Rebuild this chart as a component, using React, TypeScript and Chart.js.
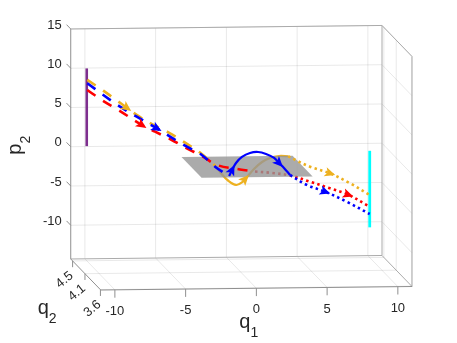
import React, { useEffect, useRef } from "react";
import { Chart, registerables } from "chart.js";

Chart.register(...registerables);

// ---- axis ranges & ticks ----
const Q1_RANGE = [-11, 11];
const Q2_RANGE = [3.59, 4.56];
const P2_RANGE = [-14.3, 15];
const Q1_TICKS = [-10, -5, 0, 5, 10];
const Q2_TICKS = [4.5, 4.1, 3.6];
const Q2_TICK_LABELS = ["4.5", "4.1", "3.6"];
const P2_TICKS = [15, 10, 5, 0, -5, -10];

// all trajectories lie in the plane q2 = CURVE_Q2
const CURVE_Q2 = 4.5;

// ---- trajectories (q1, p2) ----
const yellowDashQ1 = [-9.96, -8.83, -7.6, -6.47, -5.29, -4.11, -3.05, -1.87, -0.86];
const yellowDashP2 = [8.73, 7.34, 5.71, 4.2, 2.9, 1.82, 0.6, -0.86, -2.48];
const yellowSolidQ1 = [-0.86, -0.44, -0.015, 0.55, 0.97, 1.33, 1.82, 2.39, 2.95, 3.59, 4.23];
const yellowSolidP2 = [-2.48, -3.5, -4.28, -4.86, -4.55, -3.86, -2.85, -1.97, -1.47, -1.23, -1.28];
const yellowDotQ1 = [4.23, 4.84, 5.78, 7.19, 8.61, 10.0];
const yellowDotP2 = [-1.28, -1.85, -2.64, -3.51, -4.81, -6.33];

const blueDashQ1 = [-9.96, -8.83, -7.65, -6.47, -5.05, -4.11, -3.05, -1.87, -0.93, 0.06];
const blueDashP2 = [8.31, 6.79, 5.28, 3.98, 2.47, 1.39, 0.22, -0.99, -2.5, -3.71];
const blueSolidQ1 = [0.06, 0.27, 0.55, 0.97, 1.54, 2.11, 2.67, 3.24, 3.59, 3.94, 4.37];
const blueSolidP2 = [-3.71, -2.95, -2.06, -1.3, -0.8, -0.69, -0.95, -1.47, -2.12, -2.76, -3.66];
const blueDotQ1 = [4.37, 5.55, 6.84, 8.37, 10.0];
const blueDotP2 = [-3.66, -4.96, -5.84, -7.15, -8.75];

const redDashQ1 = [-9.96, -8.94, -7.77, -6.11, -5.17, -3.99, -2.93, -1.87, -0.79, 0.83, 1.89];
const redDashP2 = [7.45, 6.16, 4.86, 2.92, 2.04, 0.96, -0.12, -1.12, -2.29, -2.89, -3.17];
const redDotQ1 = [1.89, 3.09, 4.37, 5.78, 7.19, 8.47, 10.0];
const redDotP2 = [-3.17, -3.38, -3.73, -4.55, -5.42, -6.25, -7.82];

// initial and final segments
const purpleQ1 = [-10, -10];
const purpleP2 = [0.3, 10.2];
const cyanQ1 = [10, 10];
const cyanP2 = [-0.7, -10.45];

// section plane p2 = const
const planeQ1 = [-3.85, 4.0];
const planeQ2 = [3.6, 4.25];
const planeP2 = -0.2;

// arrow locations (q1 along each trajectory)
const yellowDashArrows = [-7.17];
const yellowSolidArrows = [1.19];
const yellowDotArrows = [7.19];
const blueDashArrows = [-5.05];
const blueSolidArrows = [0.27, 3.59];
const blueDotArrows = [6.84];
const redDashArrows = [-6.11];
const redDotArrows = [8.47];

// ---- view (oblique projection) ----
const VIEW_X = [-16.0, 16.3];
const VIEW_Y = [-25.0, 18.69];
const DEPTH_SHIFT_X = 2.12;
const DEPTH_SHIFT_Y = -3.95;
const TILT = 0.0203;

function proj(q1: number, q2: number, p2: number) {
  const t = (Q2_RANGE[1] - q2) / (Q2_RANGE[1] - Q2_RANGE[0]);
  return {
    x: q1 + t * DEPTH_SHIFT_X,
    y: p2 + t * DEPTH_SHIFT_Y + TILT * (q1 - Q1_RANGE[0]),
  };
}

const YELLOW = "#EDB120";
const BLUE = "#0000FF";
const RED = "#FF0000";
const DASH = [10, 9];
const DOT = [2.5, 3.3];

type Series = {
  q1: number[];
  p2: number[];
  color: string;
  dash: number[];
  width: number;
  order: number;
  arrows: number[];
};

const SERIES: Series[] = [
  { q1: blueSolidQ1, p2: blueSolidP2, color: BLUE, dash: [], width: 2.2, order: 0, arrows: blueSolidArrows },
  { q1: blueDotQ1, p2: blueDotP2, color: BLUE, dash: DOT, width: 2.6, order: 1, arrows: blueDotArrows },
  { q1: blueDashQ1, p2: blueDashP2, color: BLUE, dash: DASH, width: 2.6, order: 2, arrows: blueDashArrows },
  { q1: yellowDashQ1, p2: yellowDashP2, color: YELLOW, dash: DASH, width: 2.6, order: 3, arrows: yellowDashArrows },
  { q1: redDashQ1, p2: redDashP2, color: RED, dash: DASH, width: 2.6, order: 4, arrows: redDashArrows },
  { q1: yellowDotQ1, p2: yellowDotP2, color: YELLOW, dash: DOT, width: 2.6, order: 5, arrows: yellowDotArrows },
  { q1: purpleQ1, p2: purpleP2, color: "#7E2F8E", dash: [], width: 2.6, order: 6, arrows: [] },
  { q1: cyanQ1, p2: cyanP2, color: "#00FFFF", dash: [], width: 2.8, order: 7, arrows: [] },
  { q1: yellowSolidQ1, p2: yellowSolidP2, color: YELLOW, dash: [], width: 2.2, order: 9, arrows: yellowSolidArrows },
  { q1: redDotQ1, p2: redDotP2, color: RED, dash: DOT, width: 2.6, order: 10, arrows: redDotArrows },
];

const FONT = "'Liberation Sans', Arial, Helvetica, sans-serif";
const TEXT = "#262626";

const axes3d = {
  id: "axes3d",
  beforeDatasetsDraw(chart: any) {
    const ctx = chart.ctx as CanvasRenderingContext2D;
    const xs = chart.scales.x;
    const ys = chart.scales.y;
    const P = (q1: number, q2: number, p2: number) => {
      const v = proj(q1, q2, p2);
      return [xs.getPixelForValue(v.x), ys.getPixelForValue(v.y)];
    };
    const line = (a: number[], b: number[], color: string) => {
      ctx.beginPath();
      ctx.moveTo(a[0], a[1]);
      ctx.lineTo(b[0], b[1]);
      ctx.strokeStyle = color;
      ctx.lineWidth = 1;
      ctx.stroke();
    };
    const [q1a, q1b] = Q1_RANGE;
    const [q2a, q2b] = Q2_RANGE;
    const [pa, pb] = P2_RANGE;
    ctx.save();
    const grid = "rgba(0,0,0,0.09)";
    Q1_TICKS.forEach((q) => line(P(q, q2b, pa), P(q, q2b, pb), grid));
    P2_TICKS.forEach((p) => line(P(q1a, q2b, p), P(q1b, q2b, p), grid));
    Q1_TICKS.forEach((q) => line(P(q, q2b, pa), P(q, q2a, pa), grid));
    Q2_TICKS.forEach((q) => line(P(q1a, q, pa), P(q1b, q, pa), grid));
    Q2_TICKS.forEach((q) => line(P(q1b, q, pa), P(q1b, q, pb), grid));
    P2_TICKS.forEach((p) => line(P(q1b, q2b, p), P(q1b, q2a, p), grid));

    const box = "#aaaaaa";
    line(P(q1a, q2b, pb), P(q1b, q2b, pb), box);
    line(P(q1b, q2b, pa), P(q1b, q2b, pb), box);
    line(P(q1a, q2b, pa), P(q1b, q2b, pa), box);
    line(P(q1b, q2b, pb), P(q1b, q2a, pb), box);
    line(P(q1b, q2a, pa), P(q1b, q2a, pb), box);
    line(P(q1b, q2b, pa), P(q1b, q2a, pa), box);

    const axis = "#8f8f8f";
    line(P(q1a, q2b, pa), P(q1a, q2b, pb), axis);
    line(P(q1a, q2a, pa), P(q1b, q2a, pa), axis);
    line(P(q1a, q2b, pa), P(q1a, q2a, pa), axis);

    // tick marks
    const span = q2b - q2a;
    P2_TICKS.forEach((p) => line(P(q1a, q2b, p), P(q1a, q2b + 0.14 * span, p), axis));
    Q1_TICKS.forEach((q) => line(P(q, q2a, pa), P(q, q2a, pa - 1.0), axis));
    Q2_TICKS.forEach((q) => line(P(q1a, q, pa), P(q1a, q, pa - 0.8), axis));
    ctx.restore();
  },
  afterDatasetsDraw(chart: any) {
    const ctx = chart.ctx as CanvasRenderingContext2D;
    const xs = chart.scales.x;
    const ys = chart.scales.y;
    const P = (q1: number, q2: number, p2: number) => {
      const v = proj(q1, q2, p2);
      return [xs.getPixelForValue(v.x), ys.getPixelForValue(v.y)];
    };
    ctx.save();
    // arrowheads
    SERIES.forEach((s) => {
      s.arrows.forEach((q) => {
        for (let i = 0; i < s.q1.length - 1; i++) {
          const lo = s.q1[i];
          const hi = s.q1[i + 1];
          if ((lo - q) * (hi - q) <= 0 && hi !== lo) {
            const f = (q - lo) / (hi - lo);
            const a = P(lo, CURVE_Q2, s.p2[i]);
            const b = P(hi, CURVE_Q2, s.p2[i + 1]);
            const x = a[0] + f * (b[0] - a[0]);
            const y = a[1] + f * (b[1] - a[1]);
            const ang = Math.atan2(b[1] - a[1], b[0] - a[0]);
            ctx.save();
            ctx.translate(x, y);
            ctx.rotate(ang);
            ctx.beginPath();
            ctx.moveTo(5.5, 0);
            ctx.lineTo(-5, 4.8);
            ctx.lineTo(-2.5, 0);
            ctx.lineTo(-5, -4.8);
            ctx.closePath();
            ctx.fillStyle = s.color;
            ctx.fill();
            ctx.restore();
            break;
          }
        }
      });
    });

    const [q1a] = Q1_RANGE;
    const [q2a, q2b] = Q2_RANGE;
    const [pa] = P2_RANGE;
    ctx.fillStyle = TEXT;
    ctx.font = `13px ${FONT}`;
    // p2 tick labels
    ctx.textAlign = "right";
    ctx.textBaseline = "middle";
    P2_TICKS.forEach((p) => {
      const e = P(q1a, q2b, p);
      ctx.fillText(String(p), e[0] - 9, e[1] - 4);
    });
    // q1 tick labels
    ctx.textAlign = "center";
    Q1_TICKS.forEach((q) => {
      const e = P(q, q2a, pa);
      ctx.fillText(String(q), e[0], e[1] + 21.5);
    });
    // q2 tick labels (rotated)
    Q2_TICKS.forEach((q, i) => {
      const e = P(q1a, q, pa);
      ctx.save();
      ctx.translate(e[0] - 8, e[1] + 19);
      ctx.rotate(-0.68);
      ctx.fillText(Q2_TICK_LABELS[i], 0, 0);
      ctx.restore();
    });

    // axis labels with subscripts
    const label = (main: string, sub: string, x: number, y: number, rot: number) => {
      ctx.save();
      ctx.translate(x, y);
      ctx.rotate(rot);
      ctx.textAlign = "left";
      ctx.textBaseline = "alphabetic";
      ctx.font = `20px ${FONT}`;
      ctx.fillText(main, 0, 0);
      const w = ctx.measureText(main).width;
      ctx.font = `14px ${FONT}`;
      ctx.fillText(sub, w, 9);
      ctx.restore();
    };
    const q1Base = P(0, q2a, pa);
    label("q", "1", q1Base[0] - 17, q1Base[1] + 40, 0);
    const q2Base = P(q1a, q2a, pa);
    label("q", "2", q2Base[0] - 63, q2Base[1] + 24, 0);
    const p2Base = P(q1a, q2b, 0);
    label("p", "2", p2Base[0] - 50, p2Base[1] + 8, -Math.PI / 2);
    ctx.restore();
  },
};

export default function App() {
  const ref = useRef<HTMLCanvasElement | null>(null);
  useEffect(() => {
    document.body.style.margin = "0";
    const canvas = ref.current;
    if (!canvas) return;
    const toPts = (q1: number[], p2: number[]) => q1.map((q, i) => proj(q, CURVE_Q2, p2[i]));
    const datasets: any[] = SERIES.map((s) => ({
      data: toPts(s.q1, s.p2),
      showLine: true,
      borderColor: s.color,
      backgroundColor: s.color,
      borderWidth: s.width,
      borderDash: s.dash,
      borderCapStyle: "butt",
      pointRadius: 0,
      tension: 0.35,
      fill: false,
      order: s.order,
    }));
    const planePts = [
      proj(planeQ1[0], planeQ2[1], planeP2),
      proj(planeQ1[1], planeQ2[1], planeP2),
      proj(planeQ1[1], planeQ2[0], planeP2),
      proj(planeQ1[0], planeQ2[0], planeP2),
      proj(planeQ1[0], planeQ2[1], planeP2),
    ];
    datasets.push({
      data: planePts,
      showLine: true,
      borderWidth: 0,
      borderColor: "rgba(0,0,0,0)",
      backgroundColor: "rgba(150,150,150,0.8)",
      pointRadius: 0,
      tension: 0,
      fill: "shape",
      order: 8,
    });
    const chart = new Chart(canvas, {
      type: "scatter",
      data: { datasets },
      options: {
        animation: false,
        responsive: false,
        maintainAspectRatio: false,
        events: [],
        layout: { padding: 0 },
        plugins: { legend: { display: false }, tooltip: { enabled: false } },
        scales: {
          x: { type: "linear", min: VIEW_X[0], max: VIEW_X[1], display: false },
          y: { type: "linear", min: VIEW_Y[0], max: VIEW_Y[1], display: false },
        },
      },
      plugins: [axes3d],
    });
    return () => chart.destroy();
  }, []);
  return <canvas ref={ref} width={457} height={343} style={{ display: "block" }} />;
}
